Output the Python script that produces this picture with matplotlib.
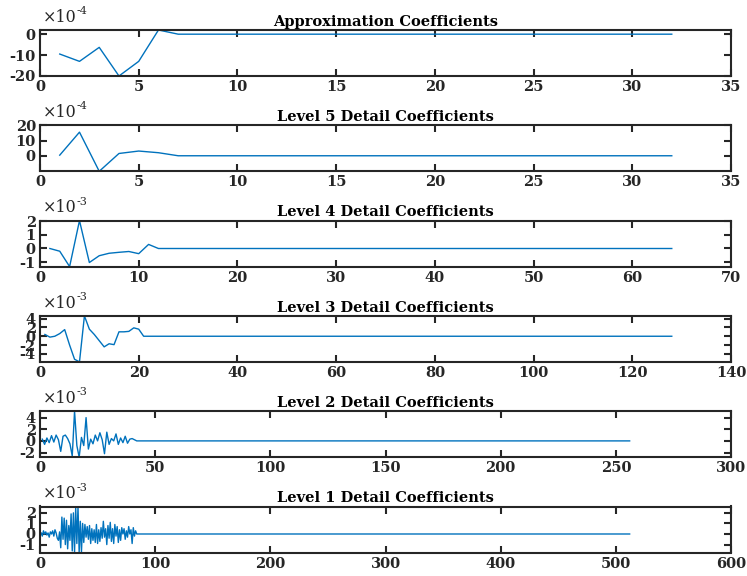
import matplotlib
matplotlib.use("Agg")
import matplotlib.pyplot as plt
import numpy as np

plt.rcParams["font.family"] = "DejaVu Serif"
plt.rcParams["axes.unicode_minus"] = False

# Wavelet decomposition coefficients (values in units of the shown exponent)
approx = [-9.5, -13, -6.3, -20, -13, 2.0, 0.0] + [0.0] * 25           # x1e-4
detail5 = [0.4, 15.5, -10.2, 1.5, 3.1, 2.0, 0.0] + [0.0] * 25          # x1e-4
detail4 = [0.0, -0.2, -1.33, 2.05, -1.03, -0.53, -0.35, -0.28, -0.22,
           -0.38, 0.3, 0.0] + [0.0] * 52                                 # x1e-3
detail3 = [0.4, -0.2, 0.0, 0.6, 1.5, -2.0, -5.2, -5.8, 4.6, 1.6, 0.4,
           -1.0, -2.4, -1.7, -1.9, 1.0, 1.0, 1.1, 1.9, 1.6, 0.0] + [0.0] * 107  # x1e-3
detail2 = [0.3, -0.6, 0.5, -0.3, 0.9, -0.2, 1.0, 0.2, -1.8, 0.8,
           1.0, 0.4, -0.5, -2.6, 5.1, -0.8, -2.8, 0.6, -0.8, 4.0,
           -1.4, 0.3, -0.5, 1.0, 0.0, 1.4, 0.2, -2.2, 1.5, -0.6,
           0.4, 0.0, 1.2, -0.6, 0.5, -0.3, 0.8, -0.4, 0.3, 0.4,
           0.2, 0.0] + [0.0] * 214                                       # x1e-3
detail1 = [0.1, -0.2, 0.3, 0.0, 0.2, -0.1, 0.1, -0.3, 0.2, 0.0,
           0.3, -0.2, 0.4, 0.1, -0.4, -0.6, 0.2, -1.3, 1.6, -0.5,
           1.5, -1.0, 1.3, -1.4, 0.8, -0.6, 1.9, -1.6, 2.0, -1.7,
           2.5, -0.9, 2.6, -1.75, 1.2, -1.7, 1.0, -0.8, 0.9, -0.3,
           0.7, -0.5, 0.8, -0.9, 0.5, -0.6, 0.4, -0.8, 0.9, -0.9,
           0.4, -0.7, 0.6, -0.4, 1.2, -0.3, 0.5, -1.0, 0.8, -0.4,
           1.1, -0.7, 0.5, -0.9, 0.9, -0.2, 0.7, -0.8, 0.4, -0.6,
           0.6, 0.0, 0.5, -0.5, 0.3, -0.3, 0.7, 0.0, 0.4, -0.9,
           0.6, -0.2, 0.3, 0.0, 0.0] + [0.0] * 427                       # x1e-3

series = [approx, detail5, detail4, detail3, detail2, detail1]
titles = ["Approximation Coefficients", "Level 5 Detail Coefficients",
          "Level 4 Detail Coefficients", "Level 3 Detail Coefficients",
          "Level 2 Detail Coefficients", "Level 1 Detail Coefficients"]
exponents = ["-4", "-4", "-3", "-3", "-3", "-3"]
xmax = [35, 35, 70, 140, 300, 600]
xstep = [5, 5, 10, 20, 50, 100]
yticks = [[-20, -10, 0], [0, 10, 20], [-1, 0, 1, 2], [-4, -2, 0, 2, 4],
          [-2, 0, 2, 4], [-1, 0, 1, 2]]

W, H = 747, 576
fig = plt.figure(figsize=(W / 100, H / 100), dpi=100)
axcol = "#262626"

for i, vals in enumerate(series):
    top = 30 + 95.3 * i
    ax = fig.add_axes([40 / W, 1 - (top + 46) / H, 691 / W, 46 / H])
    x = np.arange(1, len(vals) + 1)
    ax.plot(x, vals, color="#0072BD", lw=1.0)
    ax.set_xlim(0, xmax[i])
    ax.set_ylim(min(vals), max(vals))
    ax.set_xticks(np.arange(0, xmax[i] + 1, xstep[i]))
    ax.set_yticks(yticks[i])
    ax.tick_params(direction="in", length=5, width=1.5, top=True, right=True,
                   labelsize=10.5, colors=axcol, pad=3)
    for lab in ax.get_xticklabels() + ax.get_yticklabels():
        lab.set_fontweight("bold")
    for sp in ax.spines.values():
        sp.set_linewidth(1.5)
        sp.set_color(axcol)
    ax.set_title(titles[i], fontsize=10.5, fontweight="bold", pad=3, color="black")
    # MATLAB-style exponent label above the y axis
    ax.annotate("\u00d710", xy=(0, 1), xycoords="axes fraction",
                xytext=(2, 3), textcoords="offset points", fontsize=11.5, color=axcol,
                ha="left", va="bottom")
    ax.annotate(exponents[i], xy=(0, 1), xycoords="axes fraction",
                xytext=(26, 10), textcoords="offset points", fontsize=8, color=axcol,
                ha="left", va="bottom")

fig.savefig("out.png", dpi=100)
